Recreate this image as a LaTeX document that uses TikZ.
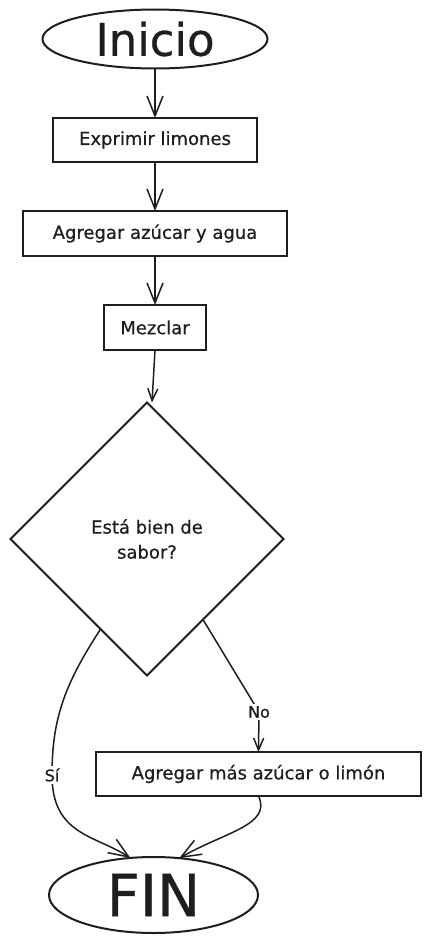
\documentclass[tikz,border=0pt]{standalone}
\usepackage{fontspec}
\setmainfont{DejaVu Sans}[FakeBold=0.6]
\usetikzlibrary{shapes.geometric,arrows.meta,calc}
\definecolor{ink}{HTML}{1E1E1E}
\begin{document}
\begin{tikzpicture}[x=1pt,y=-1pt,
  box/.style={draw=ink,line width=2pt,inner sep=0pt,outer sep=0pt,text=ink,
    font=\fontsize{18}{25}\selectfont},
  proc/.style={box,rectangle},
  term/.style={box,ellipse},
  decision/.style={box,diamond,aspect=1,align=center},
  conn/.style={draw=ink,line width=1.5pt,-{Straight Barb[length=20pt,width=16pt,line width=1.5pt]}},
  connsmall/.style={draw=ink,line width=1.5pt,-{Straight Barb[length=12pt,width=10pt,line width=1.5pt]}},
  lab/.style={fill=white,inner sep=2pt,text=ink,font=\fontsize{16}{16}\selectfont},
]
\useasboundingbox (0,0) rectangle (431,942);
\fill[white] (0,0) rectangle (431,942);

\node[term,minimum width=225pt,minimum height=59pt,font=\fontsize{45}{45}\selectfont] (inicio) at (155,39) {Inicio};
\node[proc,minimum width=204pt,minimum height=44pt] (exp) at (155,140) {Exprimir limones};
\node[proc,minimum width=264pt,minimum height=45pt] (agr) at (155,233.5) {Agregar azúcar y agua};
\node[proc,minimum width=102pt,minimum height=45pt] (mez) at (155,327.5) {Mezclar};
\node[decision,minimum width=273pt,minimum height=273pt] (dec) at (147,539) {Está bien de\\sabor?};
\node[proc,minimum width=325pt,minimum height=44pt] (mas) at (258.5,774) {Agregar más azúcar o limón};
\node[term,minimum width=209pt,minimum height=76pt,font=\fontsize{58}{58}\selectfont] (fin) at (153.5,895) {FIN};

\coordinate (si0) at ($(dec.west)!0.66!(dec.south)$);
\coordinate (no0) at ($(dec.east)!0.59!(dec.south)$);
\coordinate (silab) at (52,775);
\coordinate (nolab) at (259,712);

\draw[conn] (inicio.south) -- (exp.north);
\draw[conn] (exp.south) -- (agr.north);
\draw[conn] (agr.south) -- (mez.north);
\draw[connsmall] (mez.south) -- ($(dec.north)+(5,0)$);

\draw[conn] (si0) .. controls (64,685) and (52,720) .. (silab)
  .. controls (52,835) and (95,835) .. (fin.122);
\node[lab] at (silab) {Sí};

\draw[draw=ink,line width=1.5pt] (no0) -- (nolab);
\draw[connsmall] (nolab) -- (mas.north);
\node[lab] at (nolab) {No};

\draw[conn] (mas.south) .. controls (272,825) and (225,832) .. (fin.55);
\end{tikzpicture}
\end{document}
